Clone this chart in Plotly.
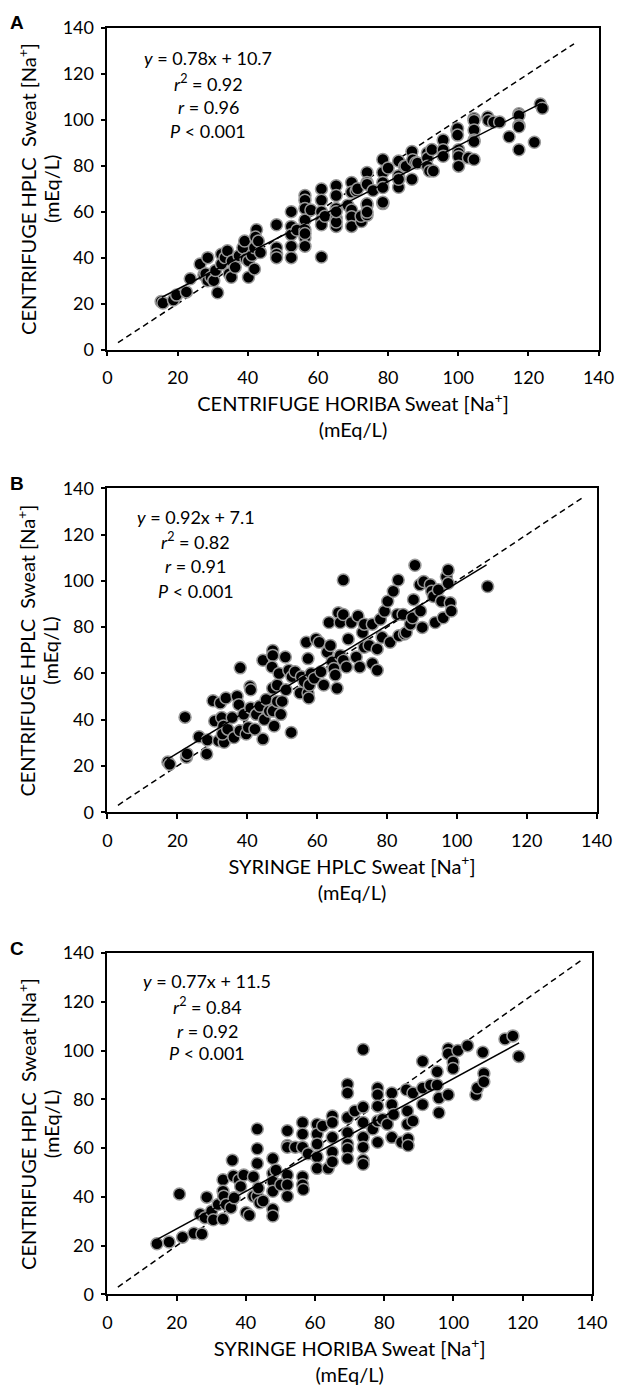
import plotly.graph_objects as go

# ---------------- data ----------------
# Panel A: CENTRIFUGE HORIBA (x) vs CENTRIFUGE HPLC (y)
a_x = [15.3, 15.8, 18.8, 19.7, 22.5, 23.6, 26.4, 27.5, 28.0, 28.6, 28.6, 29.5, 30.3, 30.8, 31.4,
       32.5, 32.5, 33.5, 34.2, 34.7, 35.3, 35.5, 36.4, 37.5, 38.6, 39.1, 39.5, 40.2, 40.2, 41.2,
       41.9, 42.5, 42.2, 41.9, 43.0, 43.6, 48.2, 48.2, 48.2, 48.2, 52.4, 52.4, 52.4, 52.4, 52.4,
       54.0, 56.3, 56.3, 56.3, 56.3, 56.3, 56.3, 56.3, 56.3, 58.0, 61.0, 61.0, 61.0, 61.0, 61.0,
       61.0, 62.0, 65.2, 65.2, 65.2, 65.2, 65.2, 65.2, 65.2, 68.5, 69.6, 69.6, 69.6, 69.6, 69.6,
       70.9, 71.3, 72.4, 72.3, 74.0, 74.0, 74.0, 74.0, 74.0, 74.0, 74.0, 75.7, 78.5, 78.5, 78.5,
       78.5, 78.5, 78.5, 80.0, 83.0, 83.0, 83.0, 83.0, 84.7, 85.1, 86.8, 86.8, 87.0, 87.9, 88.4,
       91.2, 91.2, 91.2, 91.8, 92.9, 92.5, 95.7, 95.7, 95.7, 99.6, 99.8, 99.8, 100.1, 100.1, 100.1,
       100.1, 102.9, 104.5, 104.5, 104.5, 104.5, 104.5, 104.5, 108.4, 108.6, 110.1, 111.8, 114.5, 117.3, 117.3,
       117.3, 117.3, 117.3, 121.7, 123.4, 124.0]
a_y = [20.9, 20.3, 21.6, 23.7, 25.1, 30.8, 37.2, 32.5, 33.0, 40.0, 30.0, 31.5, 30.0, 34.4, 24.7,
       41.5, 37.2, 40.0, 43.0, 33.0, 31.5, 38.5, 35.8, 40.8, 44.3, 47.2, 39.5, 31.5, 38.6, 41.0,
       44.3, 52.1, 49.0, 35.1, 47.2, 42.2, 54.3, 44.3, 41.5, 40.0, 60.0, 53.6, 50.0, 45.0, 40.0,
       52.0, 67.0, 65.0, 61.4, 56.4, 52.1, 48.6, 45.0, 50.5, 60.7, 69.9, 65.0, 60.0, 56.4, 54.3,
       40.3, 58.0, 71.3, 67.0, 61.4, 57.1, 53.6, 55.5, 60.0, 62.8, 72.7, 68.5, 60.7, 57.8, 53.6,
       69.1, 70.0, 55.7, 58.0, 77.0, 72.7, 71.9, 62.8, 58.5, 63.4, 59.8, 69.2, 82.7, 77.0, 72.7,
       70.5, 63.5, 64.1, 79.0, 82.0, 75.6, 70.6, 74.1, 79.8, 79.8, 86.2, 74.1, 82.6, 81.3, 81.2,
       85.5, 83.3, 79.8, 77.7, 77.7, 87.0, 91.2, 86.9, 84.1, 95.5, 96.2, 93.3, 86.9, 85.5, 84.0,
       79.8, 83.4, 100.5, 99.7, 95.5, 91.2, 90.5, 82.7, 101.2, 99.7, 99.0, 99.0, 92.6, 102.6, 101.8,
       97.6, 96.9, 86.9, 90.2, 106.8, 105.0]

# Panel B: SYRINGE HPLC (x) vs CENTRIFUGE HPLC (y)
b_x = [17.3, 17.8, 22.2, 22.6, 22.8, 26.2, 28.4, 28.6, 30.2, 30.7, 31.8, 32.3, 32.7, 33.4, 33.9,
       33.2, 32.9, 34.4, 35.7, 36.2, 37.1, 37.6, 38.0, 37.9, 39.0, 39.7, 40.8, 41.0, 40.3, 41.0,
       42.2, 42.6, 43.6, 44.5, 44.5, 44.9, 45.4, 46.3, 47.3, 47.3, 47.1, 47.3, 47.4, 47.7, 48.6,
       49.1, 48.6, 49.6, 50.0, 50.9, 51.1, 51.9, 52.6, 52.8, 53.7, 55.1, 55.5, 56.3, 56.9, 57.4,
       57.4, 57.6, 57.8, 58.3, 59.2, 59.7, 60.6, 61.1, 61.9, 62.9, 63.4, 63.8, 64.3, 64.8, 65.2,
       65.7, 66.1, 66.6, 66.6, 67.5, 67.5, 67.5, 68.4, 68.9, 69.8, 71.2, 71.7, 72.2, 73.0, 73.5,
       73.5, 74.9, 75.8, 75.8, 77.2, 77.2, 78.1, 78.6, 79.3, 80.2, 80.9, 81.8, 83.0, 83.2, 83.4,
       84.6, 85.0, 85.5, 86.7, 87.3, 87.6, 88.0, 89.4, 89.6, 90.1, 90.5, 92.4, 92.8, 93.3, 93.8,
       94.7, 95.6, 96.1, 97.0, 97.5, 97.5, 98.1, 98.4, 108.8]
b_y = [21.7, 20.7, 41.1, 23.8, 25.2, 32.6, 25.2, 31.2, 48.2, 39.4, 30.9, 47.2, 40.9, 30.2, 49.4,
       37.3, 33.8, 35.9, 40.9, 32.3, 50.1, 46.5, 62.4, 35.2, 42.3, 33.8, 54.3, 52.9, 36.6, 45.1,
       35.9, 42.3, 45.8, 65.7, 31.6, 40.1, 48.7, 43.7, 69.9, 67.8, 62.8, 53.6, 43.7, 37.3, 55.0,
       60.0, 47.9, 42.3, 47.9, 67.1, 52.9, 61.4, 34.5, 58.6, 60.7, 51.5, 58.6, 56.5, 73.5, 66.4,
       51.5, 49.4, 55.0, 60.0, 57.9, 74.9, 73.5, 60.7, 55.0, 69.2, 82.0, 72.1, 65.0, 62.1, 59.3,
       53.6, 86.2, 82.0, 67.8, 100.4, 85.5, 65.7, 62.8, 74.9, 82.0, 67.1, 84.8, 62.8, 77.7, 71.3,
       81.3, 72.1, 64.3, 81.3, 61.4, 70.6, 83.4, 75.6, 86.9, 91.2, 73.5, 95.5, 85.5, 100.4, 76.3,
       85.5, 77.0, 77.7, 81.3, 84.1, 91.9, 106.8, 98.3, 87.0, 79.9, 99.7, 98.3, 95.5, 93.3, 82.0,
       96.2, 91.2, 84.1, 101.8, 104.7, 99.0, 90.5, 87.0, 97.6]

# Panel C: SYRINGE HORIBA (x) vs CENTRIFUGE HPLC (y)
c_x = [14.3, 17.8, 20.8, 21.7, 25.0, 27.3, 26.8, 28.7, 28.2, 30.1, 30.6, 32.0, 33.4, 33.4, 33.6,
       33.4, 34.3, 35.7, 36.1, 36.6, 36.4, 38.0, 39.4, 38.5, 40.1, 41.0, 42.2, 43.3, 43.3, 43.3,
       42.2, 43.3, 44.0, 45.0, 43.6, 47.8, 47.8, 47.8, 47.8, 47.8, 47.8, 48.7, 50.1, 52.0, 52.0,
       52.0, 52.0, 52.0, 52.0, 54.3, 56.4, 56.4, 56.4, 56.4, 56.4, 56.6, 58.0, 60.6, 60.6, 60.6,
       60.6, 60.6, 62.2, 63.8, 65.0, 65.0, 65.0, 65.0, 65.0, 69.4, 69.4, 69.4, 69.4, 69.4, 69.4,
       69.4, 71.5, 73.9, 73.9, 73.9, 73.9, 73.9, 73.9, 73.9, 76.7, 78.1, 78.1, 78.1, 78.1, 78.1,
       79.5, 80.9, 82.2, 82.2, 82.7, 82.2, 85.0, 86.4, 86.7, 86.7, 86.9, 86.9, 88.3, 88.3, 91.1,
       91.1, 91.1, 93.4, 95.3, 95.3, 95.8, 95.8, 98.5, 98.5, 98.5, 99.9, 99.9, 101.3, 104.1, 106.5,
       106.9, 108.5, 108.8, 108.8, 114.9, 117.2, 118.9]
c_y = [20.8, 21.5, 41.2, 23.5, 25.1, 24.8, 32.9, 39.9, 31.5, 34.2, 30.6, 36.9, 47.0, 42.3, 40.3,
       30.9, 36.9, 35.6, 55.0, 39.6, 48.6, 47.0, 49.0, 44.3, 33.6, 32.5, 48.3, 67.8, 59.7, 53.7,
       40.3, 40.3, 37.6, 38.3, 43.6, 55.7, 49.7, 46.3, 42.3, 34.9, 32.2, 51.0, 45.0, 67.1, 61.1,
       60.4, 49.0, 45.0, 40.3, 60.4, 70.5, 65.8, 60.4, 48.3, 45.0, 43.0, 57.7, 69.8, 65.8, 61.7,
       56.4, 51.7, 69.1, 51.7, 73.2, 70.5, 64.4, 58.4, 54.4, 86.2, 82.6, 72.5, 66.4, 61.7, 59.7,
       55.7, 75.2, 100.4, 76.8, 70.5, 64.4, 60.4, 55.0, 53.4, 67.8, 84.6, 81.9, 77.2, 71.1, 62.4,
       71.8, 69.8, 82.6, 77.9, 73.8, 64.4, 62.4, 83.9, 75.2, 69.8, 63.8, 61.1, 82.6, 71.1, 95.6,
       84.6, 77.9, 85.9, 91.3, 85.9, 80.5, 74.5, 100.7, 98.7, 81.9, 95.3, 92.6, 100.0, 102.0, 81.9,
       84.6, 99.3, 90.6, 87.2, 104.7, 106.0, 97.6]

# regression fits (slope, intercept) and the x span over which each fit line is drawn
a_fit = (0.78, 10.7); a_fit_span = (15.5, 123.5)
b_fit = (0.92, 7.1);  b_fit_span = (17.0, 108.5)
c_fit = (0.77, 11.5); c_fit_span = (14.5, 119.0)
# line of identity spans
a_id_span = (3.0, 133.0)
b_id_span = (3.0, 136.0)
c_id_span = (3.0, 137.0)

a_stats = ["<i>y</i> = 0.78x + 10.7", "<i>r</i><sup>2</sup> = 0.92", "<i>r</i> = 0.96", "<i>P</i> &lt; 0.001"]
b_stats = ["<i>y</i> = 0.92x + 7.1", "<i>r</i><sup>2</sup> = 0.82", "<i>r</i> = 0.91", "<i>P</i> &lt; 0.001"]
c_stats = ["<i>y</i> = 0.77x + 11.5", "<i>r</i><sup>2</sup> = 0.84", "<i>r</i> = 0.92", "<i>P</i> &lt; 0.001"]

y_title_lines = ["CENTRIFUGE HPLC\u00a0 Sweat [Na<sup>+</sup>]", "(mEq/L)"]
a_xtitle = "CENTRIFUGE HORIBA Sweat [Na<sup>+</sup>]<br>(mEq/L)"
b_xtitle = "SYRINGE HPLC Sweat [Na<sup>+</sup>]<br>(mEq/L)"
c_xtitle = "SYRINGE HORIBA Sweat [Na<sup>+</sup>]<br>(mEq/L)"
panel_labels = ["A", "B", "C"]
tick_vals = [0, 20, 40, 60, 80, 100, 120, 140]

# ---------------- figure ----------------
W, H = 631, 1397
FONT = "Lato, 'Open Sans', sans-serif"

# pixel boxes of the three plot areas: (left, right, top, bottom)
boxes = [(106, 614, 16, 343), (106, 612, 484, 813), (106, 607, 956, 1303)]
stat_pos = [(0.205, [0.905, 0.829, 0.755, 0.679]),
            (0.180, [0.912, 0.836, 0.760, 0.684]),
            (0.206, [0.919, 0.844, 0.772, 0.706])]
ytitle_px = [22, 47]   # centre x of the two rotated y-title lines

fig = go.Figure()
panels = [
    (a_x, a_y, a_fit, a_fit_span, a_id_span, a_stats, a_xtitle),
    (b_x, b_y, b_fit, b_fit_span, b_id_span, b_stats, b_xtitle),
    (c_x, c_y, c_fit, c_fit_span, c_id_span, c_stats, c_xtitle),
]

annotations = []
for i, (px, py, fit, fspan, idspan, stats, xtitle) in enumerate(panels):
    n = "" if i == 0 else str(i + 1)
    xa, ya = "x" + n, "y" + n
    # identity line
    fig.add_trace(go.Scatter(x=list(idspan), y=list(idspan), mode="lines", xaxis=xa, yaxis=ya,
                             line=dict(color="black", width=1.5, dash="6px,4px"),
                             showlegend=False, hoverinfo="skip"))
    # points
    fig.add_trace(go.Scatter(x=px, y=py, mode="markers", xaxis=xa, yaxis=ya,
                             marker=dict(size=12, color="black",
                                         line=dict(color="#999999", width=1.5)),
                             showlegend=False))
    # regression line
    fx = list(fspan)
    fy = [fit[0] * v + fit[1] for v in fx]
    fig.add_trace(go.Scatter(x=fx, y=fy, mode="lines", xaxis=xa, yaxis=ya,
                             line=dict(color="black", width=1.5),
                             showlegend=False, hoverinfo="skip"))

    l, r, t, b = boxes[i]
    axis_common = dict(range=[0, 140], tickvals=tick_vals, showgrid=False, zeroline=False,
                       showline=True, linecolor="black", linewidth=1.8, mirror=True,
                       ticks="outside", ticklen=5, tickwidth=1.5, tickcolor="black",
                       tickfont=dict(family=FONT, size=18, color="black"), fixedrange=True)
    fig.update_layout(**{
        ("xaxis" + n): dict(domain=[l / W, r / W], anchor=ya, ticklabelstandoff=6,
                            title=dict(text=xtitle, font=dict(family=FONT, size=20, color="black"),
                                       standoff=10),
                            **axis_common),
        ("yaxis" + n): dict(domain=[1 - b / H, 1 - t / H], anchor=xa, ticklabelstandoff=3,
                            **axis_common),
    })
    # y-axis title (two rotated lines)
    ymid = 1 - ((t + b) / 2) / H
    for txt, xp in zip(y_title_lines, ytitle_px):
        annotations.append(dict(text=txt, x=xp / W, y=ymid, xref="paper", yref="paper",
                                textangle=-90, showarrow=False, xanchor="center", yanchor="middle",
                                font=dict(family=FONT, size=20, color="black")))
    sx, sys_ = stat_pos[i]
    for txt, yy in zip(stats, sys_):
        annotations.append(dict(text=txt, x=sx, y=yy, xref=xa + " domain", yref=ya + " domain",
                                showarrow=False, xanchor="center", yanchor="middle",
                                font=dict(family=FONT, size=18, color="black")))
    annotations.append(dict(text="<b>" + panel_labels[i] + "</b>", x=3 / W, y=1 - (t - 5) / H,
                            xref="paper", yref="paper", showarrow=False, xanchor="left",
                            yanchor="middle", font=dict(family="Liberation Sans, Arial", size=19,
                                                        color="black")))

fig.update_layout(width=W, height=H, margin=dict(l=0, r=0, t=0, b=0),
                  paper_bgcolor="white", plot_bgcolor="white",
                  annotations=annotations, showlegend=False)

# remove the browser's default 8px body margin so the figure sits at the page origin
fig.write_html("out.html", config={"displayModeBar": False},
               post_script="document.body.style.margin='0px';")
